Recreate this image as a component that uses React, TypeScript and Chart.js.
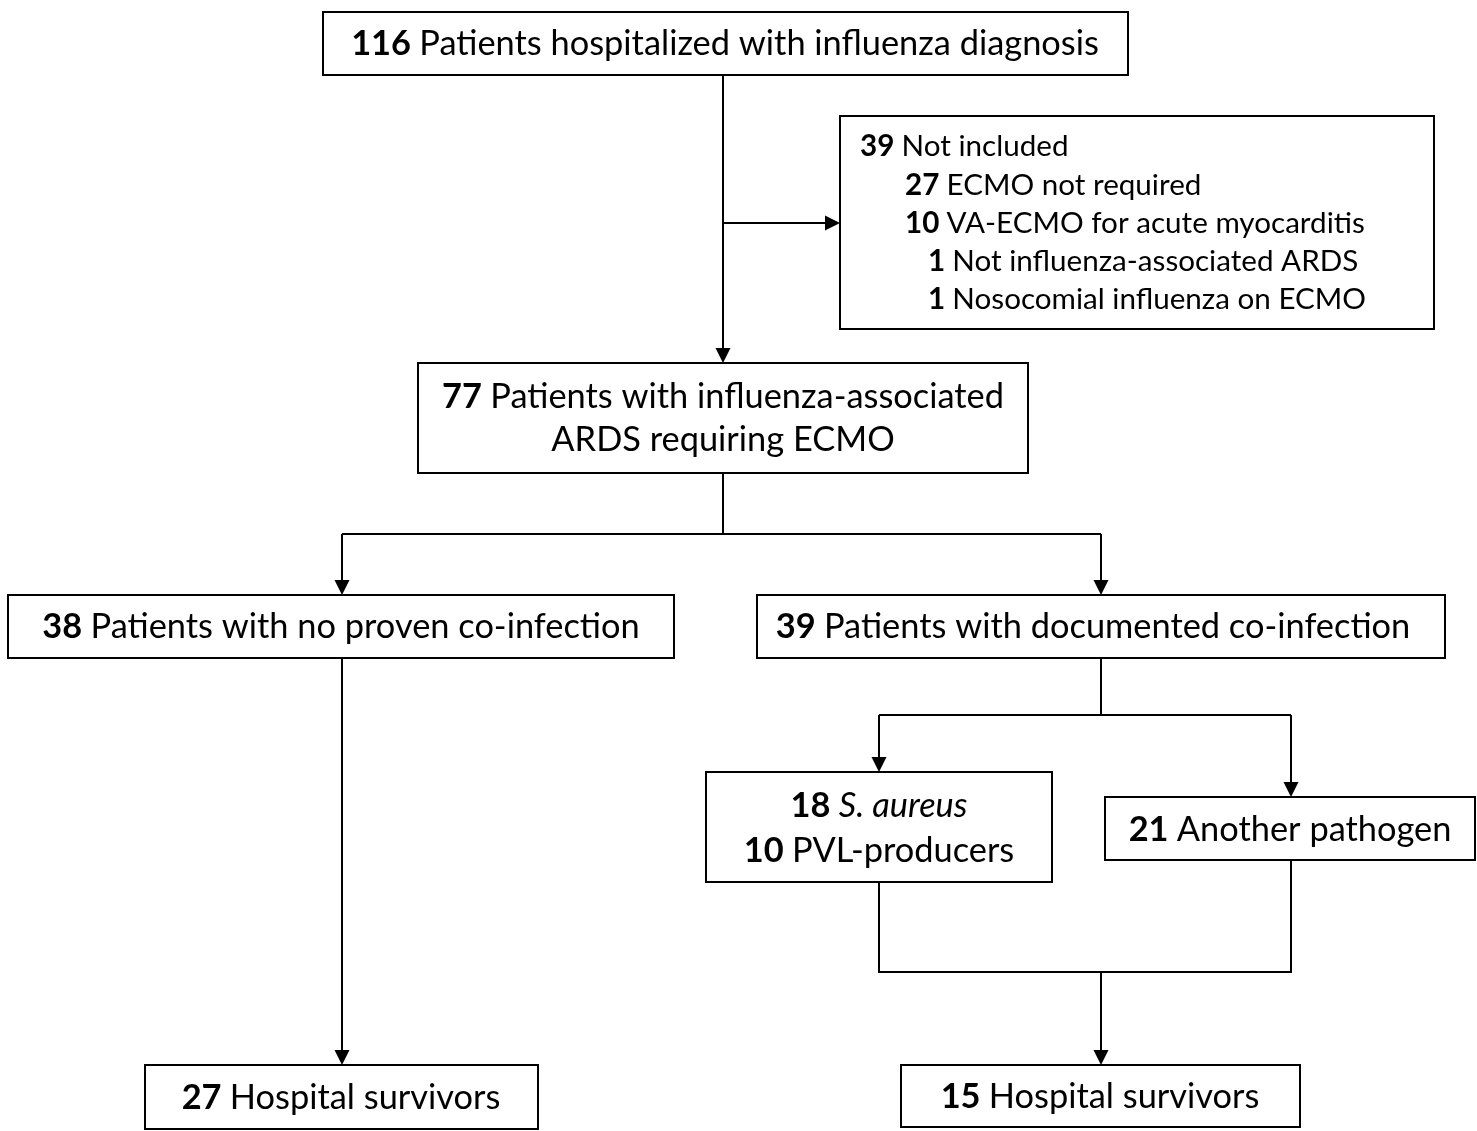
import React, { useEffect, useRef } from 'react';
import { Chart, registerables } from 'chart.js';
Chart.register(...registerables);

// ---- Data: patient counts and their labels ----
const counts = [116, 39, 27, 10, 1, 1, 77, 38, 39, 18, 10, 21, 27, 15];
const labels = [
  'Patients hospitalized with influenza diagnosis',
  'Not included',
  'ECMO not required',
  'VA-ECMO for acute myocarditis',
  'Not influenza-associated ARDS',
  'Nosocomial influenza on ECMO',
  'Patients with influenza-associated',
  'Patients with no proven co-infection',
  'Patients with documented co-infection',
  'S. aureus',
  'PVL-producers',
  'Another pathogen',
  'Hospital survivors',
  'Hospital survivors',
];
const extraLines = ['ARDS requiring ECMO'];
const italicLabels = [9];

// ---- Layout (chart units = page pixels) ----
const boxes = [
  { x0: 323, y0: 12, x1: 1128, y1: 75 },
  { x0: 840, y0: 116, x1: 1434, y1: 329 },
  { x0: 418, y0: 363, x1: 1028, y1: 473 },
  { x0: 8, y0: 595, x1: 674, y1: 658 },
  { x0: 757, y0: 595, x1: 1445, y1: 658 },
  { x0: 706, y0: 772, x1: 1052, y1: 882 },
  { x0: 1105, y0: 797, x1: 1475, y1: 860 },
  { x0: 145, y0: 1065, x1: 538, y1: 1129 },
  { x0: 901, y0: 1065, x1: 1300, y1: 1127 },
];

// each text line: item index (count+label) or extra line, position and alignment
const textLines = [
  { item: 0, x: 725, y: 44, align: 'center' },
  { item: 1, x: 860, y: 146, align: 'left', small: true },
  { item: 2, x: 905, y: 185, align: 'left', small: true },
  { item: 3, x: 905, y: 223, align: 'left', small: true },
  { item: 4, x: 928, y: 261, align: 'left', small: true },
  { item: 5, x: 928, y: 299, align: 'left', small: true },
  { item: 6, x: 723, y: 397, align: 'center' },
  { extra: 0, x: 723, y: 440, align: 'center' },
  { item: 7, x: 341, y: 627, align: 'center' },
  { item: 8, x: 1093, y: 627, align: 'center' },
  { item: 9, x: 879, y: 806, align: 'center' },
  { item: 10, x: 879, y: 851, align: 'center' },
  { item: 11, x: 1290, y: 830, align: 'center' },
  { item: 12, x: 341, y: 1098, align: 'center' },
  { item: 13, x: 1100, y: 1097, align: 'center' },
];

const connectors = [
  { pts: [[723, 75], [723, 363]], arrow: true },
  { pts: [[723, 223], [840, 223]], arrow: true },
  { pts: [[723, 473], [723, 534]], arrow: false },
  { pts: [[342, 534], [1101, 534]], arrow: false },
  { pts: [[342, 534], [342, 595]], arrow: true },
  { pts: [[1101, 534], [1101, 595]], arrow: true },
  { pts: [[342, 658], [342, 1065]], arrow: true },
  { pts: [[1101, 658], [1101, 715]], arrow: false },
  { pts: [[879, 715], [1291, 715]], arrow: false },
  { pts: [[879, 715], [879, 772]], arrow: true },
  { pts: [[1291, 715], [1291, 797]], arrow: true },
  { pts: [[879, 882], [879, 972], [1291, 972], [1291, 860]], arrow: false },
  { pts: [[1101, 972], [1101, 1065]], arrow: true },
];

const FONT = 'Lato, "Open Sans", sans-serif';
const TARGET_TOP_WIDTH = 748; // width of line for item 0
const TARGET_SMALL_WIDTH = 460; // width of line for item 3

function lineWidth(ctx: CanvasRenderingContext2D, i: number, size: number) {
  ctx.font = `bold ${size}px ${FONT}`;
  let w = ctx.measureText(String(counts[i]) + ' ').width;
  ctx.font = `${size}px ${FONT}`;
  w += ctx.measureText(labels[i]).width;
  return w;
}

const flowPlugin = {
  id: 'flowchart',
  afterDraw(chart: any) {
    const ctx = chart.ctx as CanvasRenderingContext2D;
    const xs = chart.scales.x;
    const ys = chart.scales.y;
    const px = (v: number) => Math.round(xs.getPixelForValue(v));
    const py = (v: number) => Math.round(ys.getPixelForValue(v));
    ctx.save();
    ctx.fillStyle = '#ffffff';
    ctx.fillRect(0, 0, chart.width, chart.height);

    const size = (30 * TARGET_TOP_WIDTH) / lineWidth(ctx, 0, 30);
    const sizeSmall = (30 * TARGET_SMALL_WIDTH) / lineWidth(ctx, 3, 30);

    ctx.strokeStyle = '#000';
    ctx.fillStyle = '#000';
    ctx.lineWidth = 2;
    ctx.lineCap = 'butt';
    ctx.lineJoin = 'miter';

    // connectors
    connectors.forEach((c) => {
      const p = c.pts.map(([x, y]) => [px(x), py(y)]);
      if (c.arrow) {
        const a = p[p.length - 2];
        const b = p[p.length - 1];
        const dx = b[0] - a[0];
        const dy = b[1] - a[1];
        const len = Math.hypot(dx, dy);
        const ux = dx / len, uy = dy / len;
        const L = 15, H = 7.5;
        ctx.beginPath();
        ctx.moveTo(p[0][0], p[0][1]);
        for (let i = 1; i < p.length - 1; i++) ctx.lineTo(p[i][0], p[i][1]);
        ctx.lineTo(b[0] - ux * L, b[1] - uy * L);
        ctx.stroke();
        ctx.beginPath();
        ctx.moveTo(b[0], b[1]);
        ctx.lineTo(b[0] - ux * L - uy * H, b[1] - uy * L + ux * H);
        ctx.lineTo(b[0] - ux * L + uy * H, b[1] - uy * L - ux * H);
        ctx.closePath();
        ctx.fill();
      } else {
        ctx.beginPath();
        ctx.moveTo(p[0][0], p[0][1]);
        for (let i = 1; i < p.length; i++) ctx.lineTo(p[i][0], p[i][1]);
        ctx.stroke();
      }
    });

    // boxes
    boxes.forEach((b) => {
      const x0 = px(b.x0), x1 = px(b.x1), y0 = py(b.y0), y1 = py(b.y1);
      ctx.fillStyle = '#fff';
      ctx.fillRect(x0, y0, x1 - x0, y1 - y0);
      ctx.strokeRect(x0, y0, x1 - x0, y1 - y0);
    });

    // text
    ctx.fillStyle = '#000';
    ctx.textBaseline = 'middle';
    textLines.forEach((t: any) => {
      const s0 = t.small ? sizeSmall : size;
      const segs: { text: string; font: string }[] = [];
      if (t.extra !== undefined) {
        segs.push({ text: extraLines[t.extra], font: `${s0}px ${FONT}` });
      } else {
        const i = t.item;
        segs.push({ text: String(counts[i]) + ' ', font: `bold ${s0}px ${FONT}` });
        const it = italicLabels.includes(i) ? 'italic ' : '';
        segs.push({ text: labels[i], font: `${it}${s0}px ${FONT}` });
      }
      let total = 0;
      const widths = segs.map((s) => {
        ctx.font = s.font;
        const ww = ctx.measureText(s.text).width;
        total += ww;
        return ww;
      });
      let x = xs.getPixelForValue(t.x);
      if (t.align === 'center') x -= total / 2;
      const y = ys.getPixelForValue(t.y);
      ctx.textAlign = 'left';
      segs.forEach((s, k) => {
        ctx.font = s.font;
        ctx.fillText(s.text, x, y);
        x += widths[k];
      });
    });
    ctx.restore();
  },
};

export default function App() {
  const ref = useRef<HTMLCanvasElement | null>(null);
  useEffect(() => {
    document.body.style.margin = '0';
    const canvas = ref.current;
    if (!canvas) return;
    const chart = new Chart(canvas, {
      type: 'scatter',
      data: {
        datasets: [
          {
            data: boxes.map((b) => ({ x: (b.x0 + b.x1) / 2, y: (b.y0 + b.y1) / 2 })),
            pointRadius: 0,
            showLine: false,
          },
        ],
      },
      options: {
        animation: false,
        responsive: false,
        devicePixelRatio: 1,
        layout: { padding: 0 },
        plugins: { legend: { display: false }, tooltip: { enabled: false } },
        events: [],
        scales: {
          x: { type: 'linear', min: 0, max: 1477, display: false },
          y: { type: 'linear', min: 0, max: 1131, reverse: true, display: false },
        },
      },
      plugins: [flowPlugin],
    });
    return () => chart.destroy();
  }, []);
  return (
    <div style={{ position: 'absolute', left: 0, top: 0, width: 1477, height: 1131, background: '#fff' }}>
      <canvas ref={ref} width={1477} height={1131} style={{ display: 'block' }} />
    </div>
  );
}
